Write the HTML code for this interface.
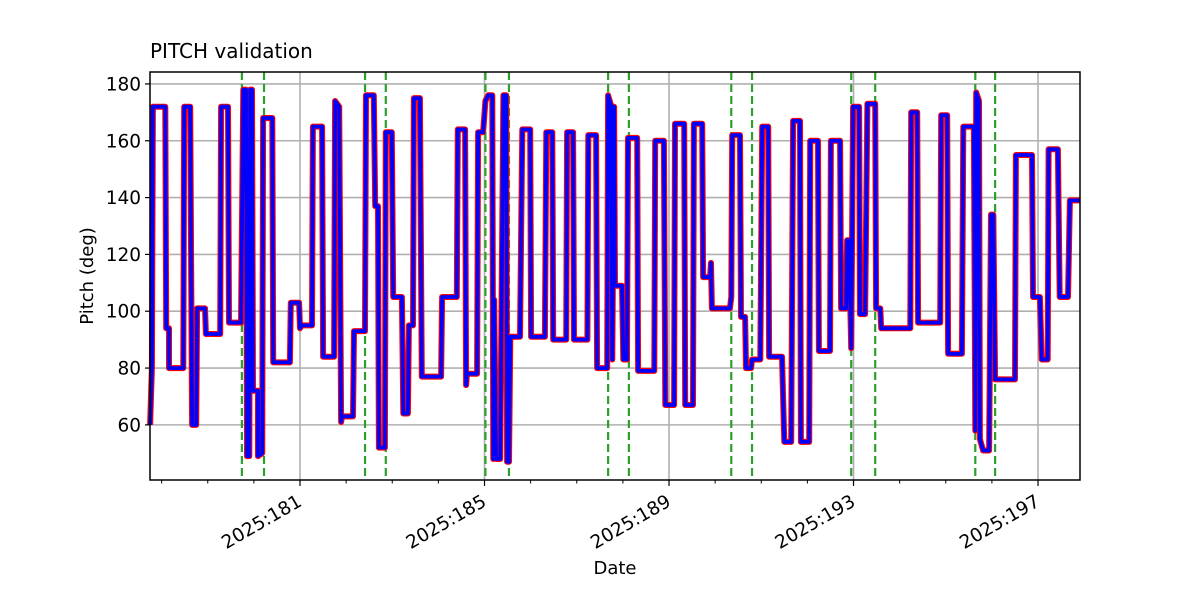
<!DOCTYPE html>
<html><head><meta charset="utf-8"><style>
body{margin:0;background:#fff}
svg{font-family:"DejaVu Sans","Liberation Sans",sans-serif}
</style></head><body>
<svg id="chart" width="1200" height="600" viewBox="0 0 1200 600" xmlns="http://www.w3.org/2000/svg">
<rect width="1200" height="600" fill="#fff"/>
<g id="grid"></g>
<g id="vlines"></g>
<g id="series"></g>
<rect x="150" y="72" width="930" height="408" fill="none" stroke="#000" stroke-width="1.5"/>
<g id="axes"></g>
<text x="150" y="58" font-size="20">PITCH validation</text>
<text x="615" y="574" font-size="18" text-anchor="middle">Date</text>
<text x="0" y="0" font-size="18" text-anchor="middle" transform="translate(93,276) rotate(-90)">Pitch (deg)</text>
</svg>
<script>
const times=[177.75,177.79,177.81,178.08,178.10,178.16,178.16,178.47,178.49,178.62,178.66,178.75,178.77,178.94,178.96,179.27,179.29,179.44,179.46,179.72,179.77,179.83,179.85,179.90,179.92,179.96,179.98,180.09,180.09,180.18,180.20,180.40,180.42,180.78,180.80,180.98,181.00,181.04,181.26,181.28,181.48,181.50,181.74,181.76,181.85,181.89,181.91,182.15,182.17,182.41,182.43,182.60,182.63,182.69,182.71,182.84,182.86,182.99,183.02,183.21,183.24,183.34,183.36,183.45,183.47,183.60,183.64,184.06,184.08,184.40,184.42,184.58,184.60,184.62,184.84,184.86,184.97,185.02,185.08,185.17,185.19,185.21,185.25,185.34,185.41,185.47,185.49,185.53,185.56,185.77,185.82,185.99,186.01,186.31,186.34,186.47,186.49,186.77,186.79,186.92,186.94,187.23,187.25,187.42,187.44,187.66,187.68,187.75,187.77,187.81,187.83,187.98,188.01,188.09,188.11,188.31,188.33,188.68,188.70,188.89,188.92,189.11,189.13,189.33,189.35,189.52,189.54,189.72,189.74,189.89,189.91,189.93,190.32,190.35,190.37,190.54,190.56,190.65,190.67,190.78,190.80,190.98,191.02,191.15,191.17,191.45,191.50,191.65,191.69,191.84,191.86,192.04,192.06,192.23,192.25,192.49,192.51,192.71,192.73,192.84,192.86,192.90,192.95,192.99,193.12,193.14,193.25,193.30,193.47,193.49,193.58,193.60,194.23,194.25,194.38,194.40,194.88,194.90,195.03,195.05,195.35,195.38,195.61,195.64,195.66,195.72,195.74,195.81,195.94,195.98,196.03,196.07,196.50,196.52,196.87,196.89,197.04,197.08,197.21,197.23,197.43,197.47,197.65,197.69,197.91];
const pitch=[60,80,172,172,94,94,80,80,172,172,60,60,101,101,92,92,172,172,96,96,178,178,49,49,178,178,72,72,49,50,168,168,82,82,103,103,94,95,95,165,165,84,84,174,172,61,63,63,93,93,176,176,137,137,52,52,163,163,105,105,64,64,95,95,175,175,77,77,105,105,164,164,74,78,78,163,163,174,176,176,48,104,48,48,176,176,47,47,91,91,164,164,91,91,163,163,90,90,163,163,90,90,162,162,80,80,176,172,83,172,109,109,83,83,161,161,79,79,160,160,67,67,166,166,67,67,166,166,112,112,117,101,101,105,162,162,98,98,80,80,83,83,165,165,84,84,54,54,167,167,54,54,160,160,86,86,160,160,101,101,125,125,87,172,172,99,99,173,173,101,101,94,94,170,170,96,96,169,169,85,85,165,165,58,177,174,55,51,51,134,134,76,76,155,155,105,105,83,83,157,157,105,105,139,139];
const eventDays=[179.74,180.22,182.41,182.86,185.02,185.53,187.68,188.13,190.35,190.80,192.95,193.47,195.64,196.07];
const yTicks=[60,80,100,120,140,160,180];
const xTickDays=[181,185,189,193,197];
const xTickLabels=["2025:181","2025:185","2025:189","2025:193","2025:197"];
const minorDays=[178,179,180,182,183,184,186,187,188,190,191,192,194,195,196];

const X0=150,X1=1080,Y0=480,Y1=72;
const dMin=177.748,dMax=197.91,vMin=40.6,vMax=184.2;
const xs=d=>X0+(d-dMin)/(dMax-dMin)*(X1-X0);
const ys=v=>Y0-(v-vMin)/(vMax-vMin)*(Y0-Y1);
const NS="http://www.w3.org/2000/svg";
function mk(tag,parent){const e=document.createElementNS(NS,tag);parent.appendChild(e);return e;}
const grid=document.getElementById('grid'),axes=document.getElementById('axes');
yTicks.forEach(v=>{
  const l=mk('line',grid);l.setAttribute('x1',X0);l.setAttribute('x2',X1);l.setAttribute('y1',ys(v));l.setAttribute('y2',ys(v));l.setAttribute('stroke','#b0b0b0');l.setAttribute('stroke-width','1.6');
  
  
  const t=mk('line',axes);t.setAttribute('x1',X0-5);t.setAttribute('x2',X0);t.setAttribute('y1',ys(v));t.setAttribute('y2',ys(v));t.setAttribute('stroke','#000');t.setAttribute('stroke-width','1.2');
  
  
  const tx=mk('text',axes);tx.setAttribute('x',X0-9);tx.setAttribute('y',ys(v)+6.5);tx.setAttribute('text-anchor','end');tx.setAttribute('font-size','18.5');tx.textContent=v;
  
  
});
xTickDays.forEach((d,i)=>{
  const x=xs(d);
  const l=mk('line',grid);l.setAttribute('x1',x);l.setAttribute('x2',x);l.setAttribute('y1',Y1);l.setAttribute('y2',Y0);l.setAttribute('stroke','#b0b0b0');l.setAttribute('stroke-width','1.6');
  
  
  const t=mk('line',axes);t.setAttribute('x1',x);t.setAttribute('x2',x);t.setAttribute('y1',Y0);t.setAttribute('y2',Y0+6);t.setAttribute('stroke','#000');t.setAttribute('stroke-width','1.2');
  
  
  const tx=mk('text',axes);tx.setAttribute('text-anchor','end');tx.setAttribute('font-size','18.5');tx.setAttribute('transform','translate('+(x+3)+','+(Y0+25)+') rotate(-30)');tx.textContent=xTickLabels[i];
  
  
});
minorDays.forEach(d=>{
  const t=mk('line',axes);t.setAttribute('x1',xs(d));t.setAttribute('x2',xs(d));t.setAttribute('y1',Y0);t.setAttribute('y2',Y0+3.5);t.setAttribute('stroke','#000');t.setAttribute('stroke-width','1');
  
  
});
const vl=document.getElementById('vlines');
eventDays.forEach(d=>{
  const l=mk('line',vl);l.setAttribute('x1',xs(d));l.setAttribute('x2',xs(d));l.setAttribute('y1',Y1);l.setAttribute('y2',Y0);l.setAttribute('stroke','#2ca02c');l.setAttribute('stroke-width','2.2');l.setAttribute('stroke-dasharray','8,4');
  
  
});
const pts=times.map((t,i)=>xs(t).toFixed(1)+','+ys(pitch[i]).toFixed(1)).join(' ');
const ser=document.getElementById('series');
const red=mk('polyline',ser);red.setAttribute('points',pts);red.setAttribute('fill','none');red.setAttribute('stroke','#ff0000');red.setAttribute('stroke-width','6');red.setAttribute('stroke-linejoin','round');


const blue=mk('polyline',ser);blue.setAttribute('points',pts);blue.setAttribute('fill','none');blue.setAttribute('stroke','#0000ff');blue.setAttribute('stroke-width','3.8');blue.setAttribute('stroke-linejoin','round');


</script>
</body></html>
